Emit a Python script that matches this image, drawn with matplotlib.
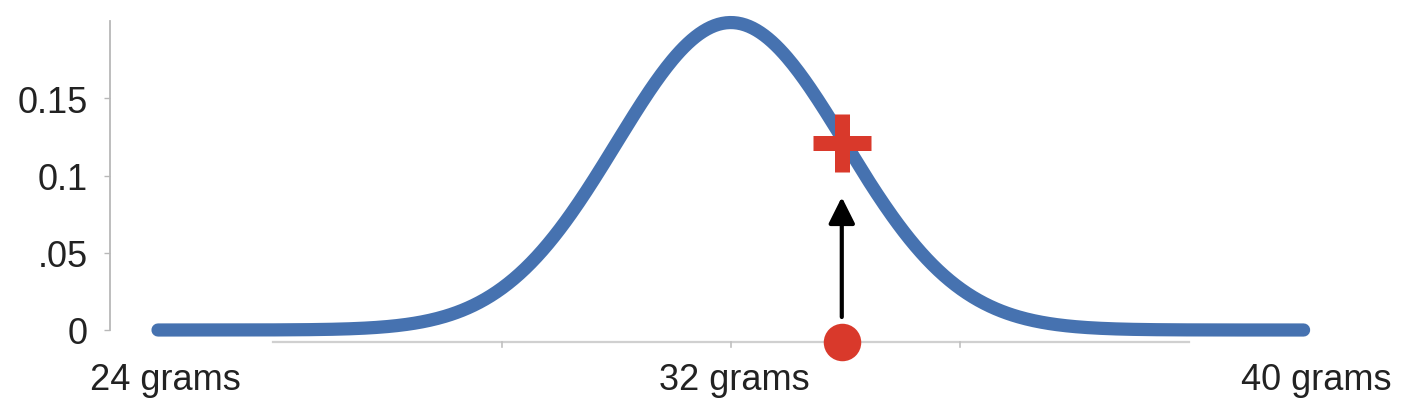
import numpy as np
import matplotlib
matplotlib.use('Agg')
import matplotlib.pyplot as plt

plt.rcParams['font.family'] = ['Liberation Sans', 'DejaVu Sans']

# curve shape (grams on x)
mean_w = 32.0
spread = 1.6
peak = 0.199
x_start, x_end = 24.0, 40.0

# observed mouse weight and its likelihood
obs_x = 33.55
obs_y = 0.121

y_ticks = [0, 0.05, 0.1, 0.15]
y_labels = ['0', '.05', '0.1', '0.15']
x_ticks = [24.1, 32.05, 40.17]
x_labels = ['24 grams', '32 grams', '40 grams']

# the light axis line under the curve and its small ticks
base_from, base_to = 25.6, 38.4
base_ticks = [28.8, 32.0, 35.2]
base_y = -0.0078

blue = '#4672b0'
red = '#d9392b'
grey = '#b8b8b8'

fig = plt.figure(figsize=(14.06, 4.10), dpi=100)
ax = fig.add_axes([110 / 1406, 79 / 410, 1280 / 1406, 309 / 410])

xs = np.linspace(x_start, x_end, 600)
ys = peak * np.exp(-0.5 * ((xs - mean_w) / spread) ** 2)
ax.plot(xs, ys, color=blue, lw=9.5, solid_capstyle='round', clip_on=False, zorder=3)

# base line
ax.plot([base_from, base_to], [base_y, base_y], color='#d0d0d0', lw=1.6,
        clip_on=False, zorder=1)
for t in base_ticks:
    ax.plot([t, t], [base_y, base_y - 0.0035], color='#c0c0c0', lw=1.2,
            clip_on=False, zorder=1)

# arrow from observation up to the curve
ax.annotate('', xy=(obs_x, 0.086), xytext=(obs_x, 0.0084),
            arrowprops=dict(arrowstyle='-|>', color='black', lw=3,
                            mutation_scale=40, shrinkA=0, shrinkB=0),
            zorder=4)

ax.plot([obs_x], [base_y], 'o', color=red, ms=27, mec='none',
        clip_on=False, zorder=5)
ax.plot([obs_x], [obs_y], '+', color=red, ms=42, mew=10.8, zorder=5)

ax.set_xlim(x_start - 48 / 71.6, x_start + (1390 - 158) / 71.6)
ax.set_ylim(0, 0.2)

ax.set_yticks(y_ticks)
ax.set_yticklabels(y_labels, fontsize=26, color='#222222')
ax.tick_params(axis='y', length=4, width=1, color=grey, pad=12)

ax.set_xticks(x_ticks)
ax.set_xticklabels(x_labels, fontsize=26, color='#222222')
ax.tick_params(axis='x', length=0, pad=23)

for s in ['top', 'right', 'bottom']:
    ax.spines[s].set_visible(False)
ax.spines['left'].set_color(grey)
ax.spines['left'].set_linewidth(1.3)

fig.savefig('out.png', dpi=100)
